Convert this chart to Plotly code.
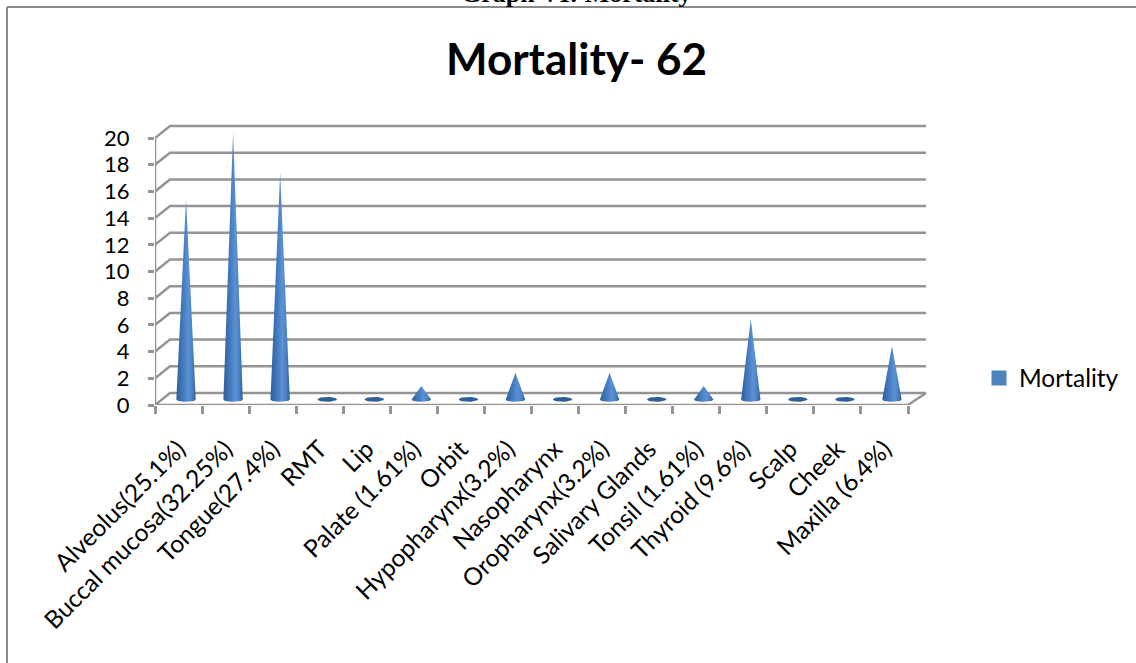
import numpy as np
import plotly.graph_objects as go

categories = ["Alveolus(25.1%)", "Buccal mucosa(32.25%)", "Tongue(27.4%)", "RMT", "Lip",
              "Palate (1.61%)", "Orbit", "Hypopharynx(3.2%)", "Nasopharynx", "Oropharynx(3.2%)",
              "Salivary Glands", "Tonsil (1.61%)", "Thyroid (9.6%)", "Scalp", "Cheek", "Maxilla (6.4%)"]
mortality = [15, 20, 17, 0, 0, 1, 0, 2, 0, 2, 0, 1, 6, 0, 0, 4]
y_ticks = list(range(0, 21, 2))

W, H = 1136, 663
L, R, T, B = 155, 930, 120, 405      # plot-area pixel box
PX_X = (908 - 155) / 16              # pixels per category
PX_Y = (405 - 138) / 20              # pixels per unit
DX = 15 / PX_X                       # depth offset of back wall, left side
DXR = 18 / PX_X                      # depth offset of back wall, right side
DY = 12 / PX_Y                       # depth offset of back wall, y units
x_rng = [-0.5, -0.5 + (R - L) / PX_X]
y_rng = [0, (B - T) / PX_Y]
GRID = "#949494"

def px(x):
    return (x - L) / (R - L)
def py(y):
    return (B - y) / (B - T)

fig = go.Figure()

# walls / gridlines
for v in y_ticks:
    fig.add_trace(go.Scatter(x=[-0.5, -0.5 + DX, 15.5 + DXR], y=[v, v + DY, v + DY], mode="lines",
                             line=dict(color=GRID, width=2.5), showlegend=False, hoverinfo="skip", cliponaxis=False))
fig.add_trace(go.Scatter(x=[-0.5, -0.5, 15.5, 15.5 + DXR], y=[20, 0, 0, DY], mode="lines",
                         line=dict(color=GRID, width=2.5), showlegend=False, hoverinfo="skip", cliponaxis=False))

# cones
HW = 9.7 / PX_X
RY = 2.4 / PX_Y
BASE = 0.42
t = np.linspace(np.pi, 2 * np.pi, 15)
grad = dict(type="horizontal",
            colorscale=[[0, "#2f5f9a"], [0.25, "#3d72b4"], [0.62, "#5a92d6"], [0.82, "#4a80c4"], [1, "#2f5f96"]])
for i, v in enumerate(mortality):
    if v > 0:
        xs = np.r_[i + DX / 2 + HW * np.cos(t), i + DX / 2, i + DX / 2 - HW]
        ys = np.r_[BASE + RY * np.sin(t), v + BASE, BASE]
        fig.add_trace(go.Scatter(x=xs, y=ys, mode="lines", fill="toself", line=dict(width=0, color="rgba(0,0,0,0)"),
                                 fillgradient=grad, showlegend=False, name=categories[i], hoverinfo="name"))
    else:
        a = np.linspace(0, 2 * np.pi, 31)
        fig.add_trace(go.Scatter(x=i + DX / 2 + HW * np.cos(a), y=BASE + RY * np.sin(a), mode="lines", fill="toself",
                                 line=dict(width=0, color="#2f5f96"), fillcolor="#2f5f96",
                                 showlegend=False, name=categories[i], hoverinfo="name"))

# legend entry
fig.add_trace(go.Scatter(x=[None], y=[None], mode="markers", name="Mortality",
                         marker=dict(symbol="square", size=15, color="#4f81bd")))

fig.update_layout(
    width=W, height=H, autosize=False,
    margin=dict(l=L, r=W - R, t=T, b=H - B),
    paper_bgcolor="white", plot_bgcolor="rgba(0,0,0,0)",
    font=dict(family="Lato", color="black"),
    xaxis=dict(range=x_rng, tickmode="array", tickvals=list(range(len(categories))), ticktext=categories,
               tickangle=-45, tickfont=dict(size=24.5), ticks="", ticklabelstandoff=24, showgrid=False, zeroline=False,
               showline=False,
               minor=dict(tickmode="array", tickvals=[i - 0.5 for i in range(len(categories) + 1)], ticks="outside",
                          ticklen=8, tickwidth=2.5, tickcolor=GRID, showgrid=False)),
    yaxis=dict(range=y_rng, tickmode="array", tickvals=y_ticks, ticks="outside", ticklen=6, tickwidth=2.5,
               tickcolor=GRID, tickfont=dict(size=22), ticklabelstandoff=14, showgrid=False, zeroline=False,
               showline=False),
    legend=dict(x=px(979), y=py(378), xanchor="left", yanchor="middle", font=dict(size=24.5),
                bgcolor="rgba(0,0,0,0)", itemwidth=30),
    annotations=[
        dict(text="<b>Mortality- 62</b>", x=px(576), y=py(58), xref="paper", yref="paper", showarrow=False,
             xanchor="center", yanchor="middle", font=dict(size=44, family="Lato")),
        dict(text="<b>Graph VI: Mortality</b>", x=px(576), y=py(-6), xref="paper", yref="paper", showarrow=False,
             xanchor="center", yanchor="middle", font=dict(size=26, family="Liberation Serif")),
    ],
    shapes=[
        dict(type="line", xref="paper", yref="paper", x0=px(7), x1=px(W), y0=py(7), y1=py(7),
             line=dict(color="#8a8a8a", width=2)),
        dict(type="line", xref="paper", yref="paper", x0=px(7), x1=px(7), y0=py(7), y1=py(H),
             line=dict(color="#8a8a8a", width=2)),
    ],
)
fig.write_html("out.html", config=dict(displayModeBar=False),
               post_script="document.body.style.margin='0';document.documentElement.style.overflow='hidden';")
